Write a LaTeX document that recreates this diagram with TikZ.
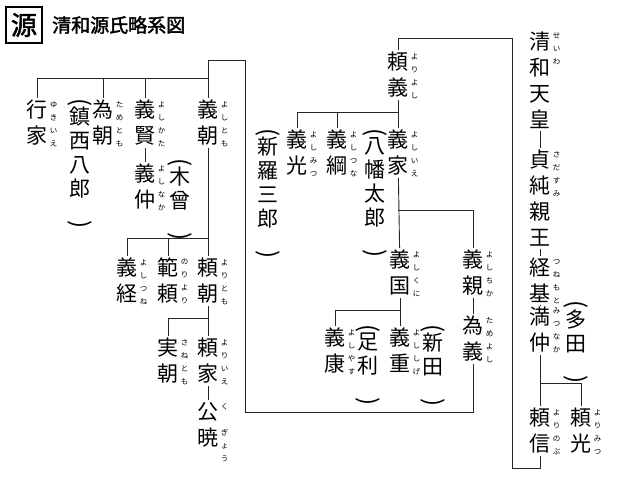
\documentclass[tikz,border=0pt]{standalone}
\usepackage{fontspec}
\setmainfont[AutoFakeBold=2]{Noto Sans CJK JP}
\begin{document}
\begin{tikzpicture}[x=1pt,y=-1pt]
    \tikzstyle{nm}=[anchor=north,inner sep=2pt,align=center,font=\fontsize{21}{26}\selectfont]
    \tikzstyle{pr}=[anchor=north,inner sep=0pt,align=center,font=\fontsize{21}{24}\selectfont]
    \tikzstyle{rb}=[anchor=north west,inner sep=0pt,align=center,font=\fontsize{7.5}{13}\selectfont]
    \tikzstyle{line}=[line width=0.9pt,black!85]
    \newcommand{\ruby}[2]{\node[rb] at ([yshift=-3pt]#1.north east) {#2};}
    \newcommand{\po}{\rotatebox{-90}{\fontsize{24}{24}\selectfont(}}
    \newcommand{\pc}{\rotatebox{-90}{\fontsize{24}{24}\selectfont)}}
    \useasboundingbox (0,0) rectangle (640,480);
    % title
    \node[draw,line width=1.1pt,minimum size=36,inner sep=0pt] (gen) at (24,25) {\fontsize{26}{26}\selectfont\bfseries 源};
    \node[anchor=west,inner sep=0pt] (title) at (52,25) {\fontsize{19}{19}\selectfont\bfseries 清和源氏略系図};
    % right column
    \node[nm] (seiwa)     at (540,30)  {清\\和\\天\\皇};
    \node[nm] (sadazumi)  at (540,148) {貞\\純\\親\\王};
    \node[nm] (tsunemoto) at (540,256) {経\\基};
    \node[nm] (mitsunaka) at (540,305) {満\\仲};
    \node[nm] (yorinobu)  at (540,406) {頼\\信};
    \node[nm] (yorimitsu) at (581,406) {頼\\光};
    \node[pr] (tada)      at (576,300) {\po\\多\\田\\\pc};
    \ruby{seiwa}{せ\\い\\わ}
    \ruby{sadazumi}{さ\\だ\\す\\み}
    \ruby{tsunemoto}{つ\\ね\\も\\と}
    \ruby{mitsunaka}{み\\つ\\な\\か}
    \ruby{yorinobu}{よ\\り\\の\\ぶ}
    \ruby{yorimitsu}{よ\\り\\み\\つ}
    % yoriyoshi line
    \node[nm] (yoriyoshi)  at (398,50)  {頼\\義};
    \node[nm] (yoshimitsu) at (297,128) {義\\光};
    \node[nm] (yoshitsuna) at (337,128) {義\\綱};
    \node[nm] (yoshiie)    at (398,128) {義\\家};
    \node[pr] (shinra)     at (268,128) {\po\\新\\羅\\三\\郎\\\pc};
    \node[pr] (hachiman)   at (375,128) {\po\\八\\幡\\太\\郎\\\pc};
    \node[nm] (yoshikuni)  at (400,248) {義\\国};
    \node[nm] (yoshichika) at (473,248) {義\\親};
    \node[nm] (tameyoshi)  at (473,314) {為\\義};
    \node[nm] (yoshiyasu)  at (335,326) {義\\康};
    \node[nm] (yoshishige) at (400,326) {義\\重};
    \node[pr] (ashikaga)   at (368,324) {\po\\足\\利\\\pc};
    \node[pr] (nitta)      at (433,324) {\po\\新\\田\\\pc};
    \ruby{yoriyoshi}{よ\\り\\よ\\し}
    \ruby{yoshimitsu}{よ\\し\\み\\つ}
    \ruby{yoshitsuna}{よ\\し\\つ\\な}
    \ruby{yoshiie}{よ\\し\\い\\え}
    \ruby{yoshikuni}{よ\\し\\く\\に}
    \ruby{yoshichika}{よ\\し\\ち\\か}
    \ruby{tameyoshi}{た\\め\\よ\\し}
    \ruby{yoshiyasu}{よ\\し\\や\\す}
    \ruby{yoshishige}{よ\\し\\し\\げ}
    % yoshitomo line
    \node[nm] (yoshitomo)  at (208,98)  {義\\朝};
    \node[nm] (yukiie)     at (37,98)   {行\\家};
    \node[nm] (tametomo)   at (103,98)  {為\\朝};
    \node[nm] (yoshikata)  at (145,98)  {義\\賢};
    \node[nm] (yoshinaka)  at (145,162) {義\\仲};
    \node[pr] (chinzei)    at (80,98)   {\po\\鎮\\西\\八\\郎\\\pc};
    \node[pr] (kiso)       at (180,158) {\po\\木\\曾\\\pc};
    \node[nm] (yoshitsune) at (127,256) {義\\経};
    \node[nm] (noriyori)   at (168,256) {範\\頼};
    \node[nm] (yoritomo)   at (208,256) {頼\\朝};
    \node[nm] (sanetomo)   at (168,336) {実\\朝};
    \node[nm] (yoriie)     at (208,336) {頼\\家};
    \node[nm] (kugyo)      at (208,400) {公\\暁};
    \ruby{yoshitomo}{よ\\し\\と\\も}
    \ruby{yukiie}{ゆ\\き\\い\\え}
    \ruby{tametomo}{た\\め\\と\\も}
    \ruby{yoshikata}{よ\\し\\か\\た}
    \ruby{yoshinaka}{よ\\し\\な\\か}
    \ruby{yoshitsune}{よ\\し\\つ\\ね}
    \ruby{noriyori}{の\\り\\よ\\り}
    \ruby{yoritomo}{よ\\り\\と\\も}
    \ruby{sanetomo}{さ\\ね\\と\\も}
    \ruby{yoriie}{よ\\り\\い\\え}
    \ruby{kugyo}{く\\\mbox{}\\ぎ\\ょ\\う}
    % corners
    \coordinate (r1) at (540,468);
    \coordinate (r2) at (512,468);
    \coordinate (r3) at (512,38);
    \coordinate (r4) at (398,38);
    \coordinate (l1) at (473,412);
    \coordinate (l2) at (245,412);
    \coordinate (l3) at (245,60);
    \coordinate (l4) at (208,60);
    \coordinate (j1) at (540,383);
    \coordinate (j2) at (398,112);
    \coordinate (j3) at (398,210);
    \coordinate (j4) at (400,310);
    \coordinate (j5) at (208,78);
    \coordinate (j6) at (208,238);
    \coordinate (j7) at (208,318);
    % connectors
    \draw[line] (seiwa) -- (sadazumi);
    \draw[line] (sadazumi) -- (tsunemoto);
    \draw[line] (tsunemoto) -- (mitsunaka);
    \draw[line] (mitsunaka) -- (yorinobu);
    \draw[line] (j1) -| (yorimitsu);
    \draw[line] (yorinobu) -- (r1) -- (r2) -- (r3) -- (r4) -- (yoriyoshi);
    \draw[line] (yoriyoshi) -- (yoshiie);
    \draw[line] (j2) -| (yoshimitsu);
    \draw[line] (yoshitsuna) -- (yoshitsuna.north |- j2);
    \draw[line] (yoshiie) -- (yoshikuni);
    \draw[line] (j3) -| (yoshichika);
    \draw[line] (yoshichika) -- (tameyoshi);
    \draw[line] (yoshikuni) -- (yoshishige);
    \draw[line] (j4) -| (yoshiyasu);
    \draw[line] (tameyoshi) -- (l1) -- (l2) -- (l3) -- (l4) -- (yoshitomo);
    \draw[line] (j5) -| (yukiie);
    \draw[line] (tametomo) -- (tametomo.north |- j5);
    \draw[line] (yoshikata) -- (yoshikata.north |- j5);
    \draw[line] (yoshikata) -- (yoshinaka);
    \draw[line] (yoshitomo) -- (yoritomo);
    \draw[line] (j6) -| (yoshitsune);
    \draw[line] (noriyori) -- (noriyori.north |- j6);
    \draw[line] (yoritomo) -- (yoriie);
    \draw[line] (j7) -| (sanetomo);
    \draw[line] (yoriie) -- (kugyo);
\end{tikzpicture}
\end{document}
